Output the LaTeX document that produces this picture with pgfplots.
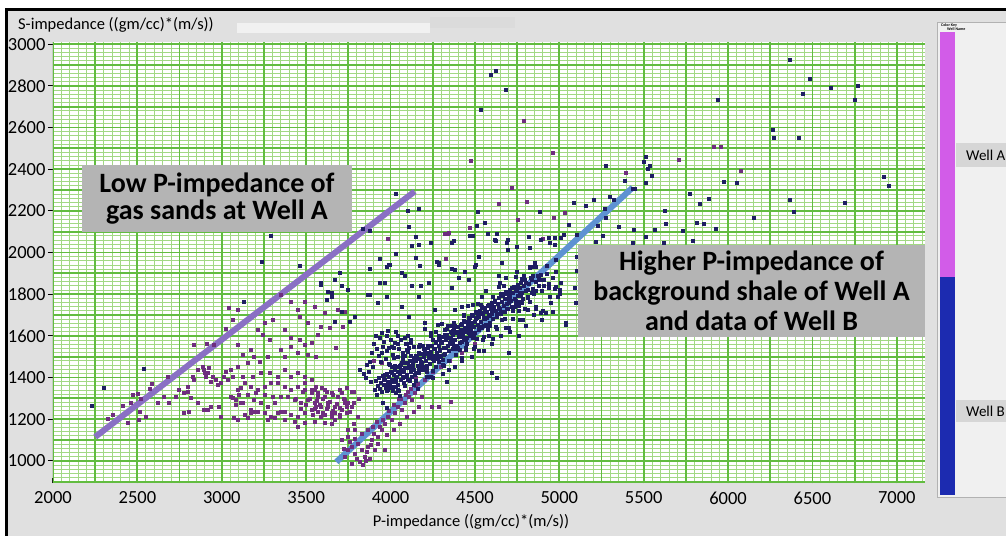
\documentclass[border=0pt]{standalone}
\usepackage{fontspec}
\setmainfont{Carlito}
\usepackage{pgfplots}
\pgfplotsset{compat=1.18}
\definecolor{bg}{HTML}{E0E0E0}
\definecolor{gmajor}{HTML}{62BC40}
\definecolor{gminor}{HTML}{A2D884}
\definecolor{darkpt}{HTML}{1E1E62}
\definecolor{purppt}{HTML}{6E2E7E}
\definecolor{purpline}{HTML}{8A70C4}
\definecolor{blueline}{HTML}{5E92D2}
\definecolor{annogray}{HTML}{B4B4B4}
\definecolor{wellA}{HTML}{D25CE8}
\definecolor{wellB}{HTML}{1C2BB0}
\begin{document}
\begin{tikzpicture}
\useasboundingbox (-53pt,-53pt) rectangle (953pt,483pt);
\fill[bg] (-53pt,-53pt) rectangle (953pt,483pt);
\fill[white] (-53pt,475pt) rectangle (953pt,483pt);
\fill[white] (-53pt,-53pt) rectangle (-48pt,483pt);
\fill[black] (-48pt,-53pt) rectangle (-45pt,475pt);
\fill[black] (-48pt,472pt) rectangle (953pt,475pt);
\fill[white!55!bg] (184pt,450pt) rectangle (377pt,460pt);
\fill[black!14] (377pt,455pt) rectangle (462pt,466pt);
\node[anchor=west, font=\fontsize{16.5}{19}\selectfont, inner sep=0pt] at (-35pt,458pt) {S-impedance ((gm/cc)*(m/s))};
\node[font=\fontsize{16.5}{19}\selectfont, inner sep=0pt] at (418pt,-39pt) {P-impedance ((gm/cc)*(m/s))};
\begin{axis}[
  at={(0pt,0pt)}, anchor=south west, scale only axis,
  width=872pt, height=441pt,
  xmin=2000, xmax=7167, ymin=894, ymax=3010,
  axis background/.style={fill=white},
  axis line style={draw=none},
  xtick={2000,2500,...,7000},
  ytick={1000,1200,...,3000},
  grid=none,
  major tick length=5pt, minor tick length=0pt,
  tick align=inside, xtick pos=bottom, ytick pos=left,
  tick style={black, line width=1pt},
  y tick style={xshift=-5pt},
  tick label style={font=\fontsize{18.5}{20}\selectfont},
  xticklabel style={yshift=-5pt},
  yticklabel style={xshift=-4pt},
  /pgf/number format/assume math mode=true,
  /pgf/number format/1000 sep={},
]
% grid (minor then major)
\pgfplotsinvokeforeach{2000,2050,...,7150}{\draw[gminor, line width=0.85pt] (axis cs:#1,894) -- (axis cs:#1,3010);}
\pgfplotsinvokeforeach{900,920,...,3000}{\draw[gminor, line width=0.85pt] (axis cs:2000,#1) -- (axis cs:7167,#1);}
\pgfplotsinvokeforeach{2000,2250,...,7000}{\draw[gmajor, line width=1.8pt] (axis cs:#1,894) -- (axis cs:#1,3010);}
\pgfplotsinvokeforeach{900,1000,...,3000}{\draw[gmajor, line width=1.8pt] (axis cs:2000,#1) -- (axis cs:7167,#1);}
\draw[black!55, line width=1pt] (axis cs:2000,894) -- (axis cs:2000,3010);
% Well A (gas sands and lower cluster) points
\addplot[only marks, mark=square*, mark size=1.5pt, mark options={fill=purppt, draw=purppt}] coordinates {
(2327,1202)(2351,1221)(2411,1264)(2458,1279)(2470,1317)(2500,1322)(2518,1298)(2571,1346)(2583,1370)(2440,1183)
(2512,1236)(2548,1212)(2506,1197)(2619,1279)(2655,1308)(2685,1279)(2679,1404)(2726,1308)(2744,1341)(2774,1327)(2798,1356)
(2827,1404)(2833,1389)(2857,1438)(2893,1438)(2905,1404)(2917,1423)(2935,1380)(2946,1404)(2964,1389)(2976,1365)
(2994,1375)(3012,1404)(3024,1428)(3036,1389)(3054,1438)(3065,1404)(2887,1452)(2899,1423)(2923,1447)
(2798,1332)(2815,1303)(2857,1279)(2804,1236)(2774,1231)(2893,1245)(2917,1245)(2935,1260)(2982,1260)(2994,1212)
(3083,1269)(3113,1279)(3065,1303)(3101,1317)(3071,1207)(3155,1207)(3173,1231)(3190,1236)(3155,1317)(3113,1351)
(3042,1736)(3095,1726)(3065,1678)(3024,1635)(2833,1558)(2911,1563)(2952,1558)
(3410,1766)(3450,1726)(3490,1766)(3549,1742)(3460,1694)(3510,1662)(3351,1798)(3301,1678)(3252,1662)(3212,1630)
(3242,1606)(3282,1582)(3371,1630)(3410,1590)(3460,1582)(3490,1558)(3530,1566)(3569,1606)(3589,1646)(3609,1710)
(3688,1726)(3728,1718)(3718,1646)(3639,1638)(3678,1542)(3410,1550)(3351,1534)(3371,1502)(3450,1518)(3510,1510)
(3559,1502)(3172,1534)(3123,1510)(3093,1558)(3192,1502)(3222,1478)(3272,1502)(3153,1470)(3093,1454)(3123,1406)
(3182,1406)(3232,1422)(3282,1422)(3331,1406)(3371,1438)(3410,1406)(3450,1422)(3490,1406)(3530,1390)(3559,1358)
(3609,1342)(3649,1326)(3688,1310)(3728,1293)(3748,1277)(3569,1310)(3530,1326)(3490,1342)(3450,1358)(3410,1342)
(3371,1358)(3331,1374)(3291,1374)(3252,1358)(3212,1342)(3172,1358)(3133,1374)(3093,1342)(3053,1310)(3083,1293)
(3123,1277)(3192,1293)(3232,1277)(3272,1261)(3311,1277)(3351,1310)(3391,1310)(3430,1293)(3470,1277)(3510,1293)
(3549,1277)(3589,1261)(3629,1277)(3668,1261)(3708,1245)(3738,1229)(3698,1213)(3649,1229)(3609,1221)(3569,1237)
(3530,1245)(3490,1229)(3450,1213)(3410,1221)(3371,1237)(3331,1229)(3291,1213)(3252,1229)(3212,1237)(3172,1245)
(3133,1221)(3093,1197)(3272,1197)(3311,1205)(3371,1197)(3430,1189)(3490,1181)(3549,1189)(3609,1181)(3668,1197)
(3450,1165)(3351,1237)(3301,1310)(3252,1318)(3202,1326)
(3560,1290)(3580,1270)(3600,1300)(3620,1250)(3640,1285)(3660,1240)(3680,1275)(3700,1255)(3720,1300)(3740,1260)
(3760,1235)(3780,1280)(3600,1230)(3650,1210)(3700,1220)(3550,1250)(3520,1300)(3500,1270)(3470,1250)(3440,1300)
(3620,1330)(3660,1320)(3700,1340)(3740,1350)(3780,1330)(3810,1300)(3590,1350)(3550,1340)(3540,1220)(3480,1330)
(3490,1373)(3530,1341)(3569,1325)(3609,1309)(3510,1293)(3559,1261)(3629,1261)(3668,1229)(3490,1229)(3589,1213)
(3649,1180)(3708,1325)(3768,1333)(3728,1277)(3768,1261)(3807,1213)
(3708,1100)(3748,1116)(3768,1068)(3787,1036)(3807,1084)(3827,1052)(3847,1020)(3817,996)(3867,1068)(3887,1100)
(3906,1052)(3926,1116)(3946,1148)(3966,1180)(3986,1212)(4006,1196)(4026,1229)(4045,1261)(4065,1245)(4085,1277)
(4105,1309)(4125,1293)(4145,1325)(3867,1148)(3897,1164)(3916,1188)(3827,1132)(3787,1148)(3748,1052)(3728,1020)
(3768,988)(3837,980)(3926,1084)(3976,1124)(4016,1148)(4055,1180)(4095,1212)(4135,1237)(4164,1261)(4184,1309)
(3966,1052)(3877,1012)(3760,1090)(3790,1105)(3800,1010)(3850,1000)(3860,1045)(3880,1080)(3900,1130)(3935,1165)
(3955,1200)(3990,1240)(4020,1270)(4060,1300)(4090,1320)(4120,1345)(4160,1370)(3780,1180)(3745,1150)(3720,1060)
(4050,1300)(4100,1330)(4150,1360)(4200,1390)(4250,1430)(4300,1450)(4350,1480)(4420,1520)(4500,1560)(4357,1284)
(4244,1260)(4286,1260)(4150,1400)(4200,1440)(3950,1470)(3900,1480)
(5917,2510)(5958,2510)(5708,2447)(6077,2394)(5393,2385)(5030,2192)(4964,2168)(4899,2067)(4809,2245)(4756,2159)
(4720,2313)(4643,2236)(4958,2481)(4791,2630)(4476,2442)(4470,2120)(4321,2091)(4339,2091)(3982,2067)(4345,2096)(4327,1971)
};
% Well B and background shale points
\addplot[only marks, mark=square*, mark size=1.5pt, mark options={fill=darkpt, draw=darkpt}] coordinates {
(2232,1264)(2298,1351)(2536,1442)(3131,1765)(3292,2082)(3238,1957)(3464,1937)
(3589,1847)(3629,1814)(3668,1871)(3698,1903)(3708,1839)(3748,1822)(3649,1790)(3619,1774)
(6363,2923)(6482,2832)(6607,2793)(6768,2798)(6440,2760)(6750,2731)(5940,2731)(6262,2591)(6268,2553)(6417,2553)
(6922,2365)(6952,2322)(5976,2341)(6053,2337)(5774,2284)(5887,2260)(5833,2236)(6363,2255)(6387,2197)(6690,2240)
(6149,2168)(5815,2144)(5857,2139)(5929,2115)(5732,2106)(5792,2058)(5625,2202)(5631,2139)(5565,2111)(5512,2077)
(5619,2048)(5440,2111)(5351,2125)(5434,2048)
(5512,2462)(5500,2438)(5536,2418)(5524,2404)(5548,2370)(5512,2337)(5387,2346)(5446,2308)(5434,2308)(5274,2418)
(5298,2269)(5321,2255)(5202,2255)(5155,2226)(5083,2240)(5268,2212)(5274,2168)(5226,2130)(5256,2082)(5214,2053)
(5053,2135)(5024,2087)(4970,2072)(4946,2048)(4881,2197)(4821,2077)(4684,2779)(4625,2870)(4595,2851)(4536,2683)
(4518,2197)(4559,2144)(4512,2130)(4577,2091)(4631,2091)(4488,2082)(4619,2063)(4363,2048)(4238,2048)(4690,2048)
(4030,2284)(4101,2202)(4167,2212)(3875,2106)(3833,2115)(4107,2125)(4149,2077)(4125,2034)(4167,2039)(4375,2058)
(4470,2082)(4625,2058)(4696,2063)(4696,2014)(4750,2029)(4887,2063)(4940,2072)(4970,2039)(5006,2072)(5101,2087)
(3934,1971)(3988,1942)(3976,1933)(3875,1923)(4030,1995)(4149,1976)(4173,1937)(4274,1957)(4286,1942)(4363,1923)
(4381,1918)(4440,1909)(4405,1880)(4500,1933)(4524,1981)(4083,1889)(4125,1841)(4178,1841)(4226,1856)(3934,1856)
(3875,1798)(3976,1789)(4643,1889)(4684,1880)(4649,1856)(4708,1789)(4768,1808)(4827,1933)(4857,1952)(4887,1894)
(4940,1841)(4970,1827)(5000,1822)(4988,1789)(4946,1789)(5089,1832)(5101,1914)(5101,1981)(4827,2024)
(3996,1942)(4065,1902)(3966,1854)(3867,1798)(3708,1717)(3758,1669)(3787,1693)(3668,1669)(3589,1854)(3649,1806)
(3926,1758)(4065,1741)(4105,1693)(4164,1790)(4283,1950)(4383,1918)(4363,1830)(4462,1870)(4502,1942)(4660,1950)
(4740,1886)(4859,1934)(4978,1966)(5008,1854)(4938,1830)(5037,1653)(4958,1717)(4898,1677)(4779,1758)(4700,1806)
(4601,1741)(4541,1790)(4422,1741)(4264,1725)(4204,1661)(4323,1629)(4383,1645)(4462,1613)
(3900,1560)(3920,1540)(3935,1590)(3950,1520)(3960,1570)(3975,1600)(3990,1545)(4000,1580)(4010,1510)(4025,1565)
(4040,1600)(4050,1540)(4060,1580)(4075,1520)(4090,1560)(4100,1600)(4110,1545)(3910,1600)(3945,1615)(3985,1625)
(4030,1620)(3930,1505)(3970,1490)(4020,1495)(4070,1500)(4120,1580)(3890,1520)(3955,1550)(4005,1550)(4045,1560)
(4085,1590)(3980,1530)
(3850,1400)(3870,1430)(3880,1380)(3860,1460)(3840,1420)(3895,1450)(3875,1475)(3820,1440)
(3905,1340)(3912,1385)(3918,1320)(3925,1360)(3930,1400)(3936,1345)(3942,1375)(3948,1330)(3953,1410)(3958,1365)
(3964,1390)(3970,1350)(3975,1420)(3981,1380)(3986,1340)(3992,1405)(3997,1370)(4003,1430)(4008,1390)(4014,1355)
(4019,1415)(4025,1440)(4030,1380)(4036,1405)(4041,1365)(4047,1450)(4052,1420)(4058,1390)(4063,1460)(4069,1430)
(4074,1400)(4080,1375)(4085,1445)(4091,1470)(4096,1415)(4102,1390)(4107,1455)(4113,1480)(4118,1430)(4124,1405)
(4129,1465)(4135,1495)(4140,1440)(4146,1415)(4151,1480)(4157,1505)(4162,1455)(4168,1425)(4173,1490)(4179,1515)
(4184,1470)(4190,1440)(4195,1500)(4201,1530)(4206,1480)(4212,1455)(4217,1515)(4223,1545)(4228,1495)(4234,1465)
(4239,1525)(4245,1555)(4250,1505)(4256,1480)(4261,1540)(4267,1570)(4272,1520)(4278,1490)(4283,1555)(4289,1580)
(4294,1530)(4300,1505)(4305,1565)(4311,1595)(4316,1545)(4322,1515)(4327,1580)(4333,1605)(4338,1555)(4344,1530)
(4349,1590)(4355,1620)(4360,1570)(4366,1540)(4371,1605)(4377,1635)(4382,1580)(4388,1555)(4393,1615)(4399,1645)
(4404,1595)(4410,1565)(4415,1630)(4421,1660)(4426,1605)(4432,1580)(4437,1640)(4443,1670)(4448,1620)(4454,1590)
(4459,1655)(4465,1685)(4470,1630)(4476,1605)(4481,1665)(4487,1695)(4492,1645)(4498,1615)(4503,1680)(4509,1710)
(4514,1655)(4520,1630)(4525,1690)(4531,1720)(4536,1670)(4542,1640)(4547,1705)(4553,1735)(4558,1680)(4564,1655)
(4569,1715)(4575,1745)(4580,1695)(4586,1665)(4591,1730)(4597,1760)(4602,1705)(4608,1680)(4613,1740)(4619,1770)
(4624,1720)(4630,1690)(4635,1755)(4641,1785)(4646,1730)(4652,1705)(4657,1765)(4663,1795)(4668,1745)(4674,1715)
(4679,1780)(4685,1810)(4690,1755)(4696,1730)(4701,1790)(4707,1820)(4712,1770)(4718,1740)(4723,1805)(4729,1835)
(4734,1780)(4740,1755)(4745,1815)(4751,1845)(4756,1795)(4762,1765)(4767,1830)(4773,1855)(4778,1805)(4784,1780)
(4789,1840)(4795,1870)(4800,1815)(4810,1790)(4820,1850)(4830,1880)(4840,1825)(4850,1800)(4860,1860)(4870,1890)
(4880,1840)(4895,1815)(4910,1870)(4925,1900)(4940,1850)(4960,1880)(4980,1910)
(3960,1395)(3977,1338)(3994,1462)(4011,1390)(4028,1454)(4045,1342)(4062,1431)(4079,1404)(4096,1533)(4113,1391)
(4130,1480)(4147,1423)(4164,1547)(4181,1475)(4198,1539)(4215,1427)(4232,1516)(4249,1489)(4266,1618)(4283,1476)
(4300,1565)(4317,1508)(4334,1632)(4351,1560)(4368,1624)(4385,1512)(4402,1601)(4419,1574)(4436,1703)(4453,1561)
(4470,1650)(4487,1593)(4504,1717)(4521,1645)(4538,1709)(4555,1597)(4572,1686)(4589,1659)(4606,1788)(4623,1646)
(4640,1735)(4657,1678)(4674,1802)(4691,1730)(4708,1794)(4725,1682)(4742,1771)(4759,1744)(4776,1873)(4793,1731)
(4810,1820)(4827,1763)(4844,1887)(4861,1815)(4878,1879)
(3985,1368)(4008,1454)(4031,1325)(4054,1457)(4077,1428)(4100,1525)(4123,1406)(4146,1483)(4169,1444)(4192,1551)
(4215,1402)(4238,1614)(4261,1505)(4284,1592)(4307,1463)(4330,1595)(4353,1566)(4376,1663)(4399,1544)(4422,1621)
(4445,1582)(4468,1689)(4491,1540)(4514,1752)(4537,1643)(4560,1730)(4583,1601)(4606,1733)(4629,1704)(4652,1801)
(4675,1682)(4698,1759)(4721,1720)(4744,1827)(4767,1678)(4790,1890)(4813,1781)(4836,1868)(4859,1739)(4882,1871)
(4905,1842)(4928,1939)
(3940,1475)(3953,1277)(3966,1413)(3979,1255)(3992,1466)(4005,1378)(4018,1544)(4031,1356)(4044,1427)(4057,1314)
(4070,1490)(4083,1362)(4096,1563)(4109,1445)(4122,1566)(4135,1368)(4148,1504)(4161,1346)(4174,1557)(4187,1469)
(4200,1635)(4213,1447)(4226,1518)(4239,1405)(4252,1581)(4265,1453)(4278,1654)(4291,1536)(4304,1657)(4317,1459)
(4330,1595)(4343,1437)(4356,1648)(4369,1560)(4382,1726)(4395,1538)(4408,1609)(4421,1496)(4434,1672)(4447,1544)
(4460,1745)(4473,1627)(4486,1748)(4499,1550)(4512,1686)(4525,1528)(4538,1739)(4551,1651)(4564,1817)(4577,1629)
(4590,1700)(4603,1587)(4616,1763)(4629,1635)(4642,1836)(4655,1718)(4668,1839)(4681,1641)(4694,1777)(4707,1619)
(4720,1830)(4733,1742)(4746,1908)(4759,1720)(4772,1791)(4785,1678)(4798,1854)(4811,1726)(4824,1927)(4837,1809)
(4850,1930)(4863,1732)(4876,1868)(4889,1710)
(3995,1353)(4004,1422)(4013,1337)(4022,1456)(4031,1396)(4040,1500)(4049,1335)(4058,1439)(4067,1469)(4076,1403)
(4085,1503)(4094,1402)(4103,1472)(4112,1386)(4121,1506)(4130,1445)(4139,1550)(4148,1384)(4157,1489)(4166,1518)
(4175,1453)(4184,1552)(4193,1452)(4202,1521)(4211,1436)(4220,1555)(4229,1495)(4238,1599)(4247,1434)(4256,1538)
(4265,1568)(4274,1502)(4283,1602)(4292,1501)(4301,1571)(4310,1485)(4319,1605)(4328,1544)(4337,1649)(4346,1483)
(4355,1588)(4364,1617)(4373,1552)(4382,1651)(4391,1551)(4400,1620)(4409,1535)(4418,1654)(4427,1594)(4436,1698)
(4445,1533)(4454,1637)(4463,1667)(4472,1601)(4481,1701)(4490,1600)(4499,1670)(4508,1584)(4517,1704)(4526,1643)
(4535,1748)(4544,1582)(4553,1687)(4562,1716)(4571,1651)(4580,1750)(4589,1650)(4598,1719)
(4250,1400)(4310,1420)(4380,1450)(4420,1480)(4480,1500)(4550,1530)(4600,1560)(4650,1600)(4700,1640)(4330,1380)
(4600,1423)(4631,1399)(4700,1520)(4760,1600)(4800,1650)(4850,1700)(4900,1720)(4950,1760)(5000,1800)(5036,1663)
(5095,1760)(4976,1837)(4917,1712)
};
\addplot[purpline, line width=6pt] coordinates {(2250,1115) (4143,2293)};
\addplot[blueline, line width=6pt] coordinates {(3679,995) (5435,2312)};
\end{axis}
\node[fill=annogray, minimum width=270pt, minimum height=67pt, inner sep=0pt, align=center, font=\fontsize{28}{27}\selectfont\bfseries] at (164pt,284.5pt) {Low P-impedance of\\gas sands at Well A};
\node[fill=annogray, minimum width=347pt, minimum height=92pt, inner sep=0pt, align=center, font=\fontsize{28}{30}\selectfont\bfseries] at (698.5pt,192pt) {Higher P-impedance of\\background shale of Well A\\and data of Well B};
% colour key
\draw[black!30, fill=black!6] (884pt,-14pt) rectangle (960pt,461pt);
\fill[wellA] (887pt,206pt) rectangle (902pt,451pt);
\fill[wellB] (887pt,-12pt) rectangle (902pt,206pt);
\node[anchor=west, inner sep=0pt, font=\fontsize{4}{4}\selectfont\bfseries] at (888pt,458pt) {Color Key};
\node[anchor=west, inner sep=0pt, font=\fontsize{4}{4}\selectfont\bfseries] at (894pt,454pt) {Well Name};
\fill[black!16] (903pt,316pt) rectangle (960pt,340pt);
\node[anchor=west, inner sep=0pt, font=\fontsize{15}{18}\selectfont] at (913pt,328pt) {Well A};
\fill[black!16] (903pt,61pt) rectangle (960pt,83pt);
\node[anchor=west, inner sep=0pt, font=\fontsize{15}{18}\selectfont] at (913pt,72pt) {Well B};
\end{tikzpicture}
\end{document}
